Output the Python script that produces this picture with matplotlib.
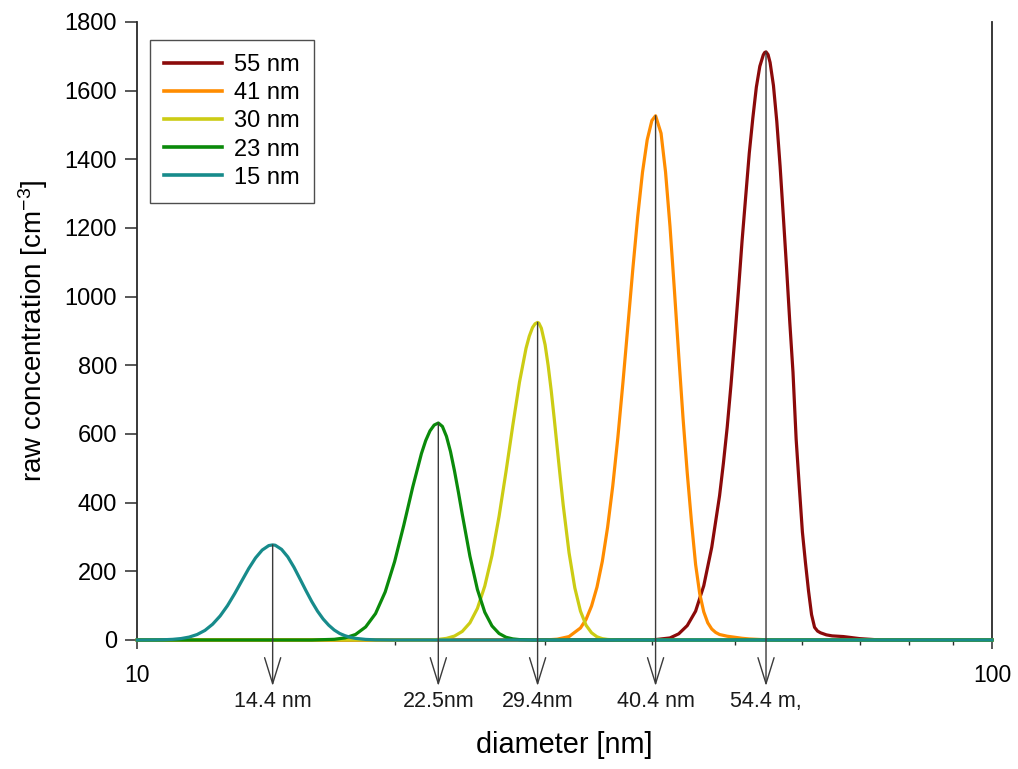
import numpy as np
import matplotlib
matplotlib.use("Agg")
import matplotlib.pyplot as plt
from matplotlib.patches import ArrowStyle

plt.rcParams['font.family'] = ['Liberation Sans', 'DejaVu Sans']
plt.rcParams['mathtext.fontset'] = 'custom'
plt.rcParams['mathtext.rm'] = 'Liberation Sans'
plt.rcParams['mathtext.it'] = 'Liberation Sans:italic'
plt.rcParams['mathtext.bf'] = 'Liberation Sans:bold'

# ---- data ----
series_labels = ["55 nm", "41 nm", "30 nm", "23 nm", "15 nm"]
series_colors = ["#8B0A0A", "#FF8C00", "#CCCC14", "#0A8A0A", "#178B8B"]

d55 = [10, 40, 42, 43, 44, 45, 46, 47, 48, 48.5, 49, 49.5, 50, 50.5, 51, 51.5, 52, 52.5, 53, 53.5,
       54, 54.2, 54.4, 54.7, 55, 55.5, 56, 56.5, 57, 57.5, 58, 58.5, 59, 59.5, 60, 60.5, 61, 61.5,
       62, 62.5, 63, 64, 65, 66, 67, 68, 70, 72, 74, 100]
c55 = [0, 0, 6, 18, 42, 84, 158, 270, 420, 515, 620, 743, 877, 1016, 1162, 1291, 1418, 1520, 1610, 1671,
       1704, 1711, 1713, 1705, 1682, 1615, 1511, 1381, 1233, 1083, 925, 780, 585, 447, 315, 225, 143, 74,
       37, 26, 21, 15, 12, 11, 10, 8, 4, 2, 0, 0]

d41 = [10, 30, 31, 32, 33, 33.5, 34, 34.5, 35, 35.5, 36, 36.5, 37, 37.5, 38, 38.5, 39, 39.5, 40, 40.4,
       41, 41.5, 42, 42.5, 43, 43.5, 44, 44.5, 45, 45.5, 46, 46.5, 47, 47.5, 48, 49, 50, 51, 52, 54, 56,
       100]
c41 = [0, 0, 2.4, 10, 35, 60, 99, 154, 229, 328, 449, 591, 750, 916, 1081, 1233, 1362, 1457, 1513, 1527,
       1476, 1363, 1205, 1020, 829, 647, 486, 345, 220, 135, 82, 50, 32, 22, 16, 11, 8, 5, 3, 1, 0,
       0]

d30 = [10, 22, 22.5, 23, 23.5, 24, 24.5, 25, 25.5, 26, 26.5, 27, 27.5, 28, 28.5, 28.75, 29, 29.2, 29.4,
       29.5, 29.7, 30, 30.25, 30.5, 30.75, 31, 31.25, 31.5, 32, 32.5, 33, 33.5, 34, 34.5, 35, 35.5,
       36.5, 100]
c30 = [0, 0, 1.7, 4.7, 11.4, 25, 50, 92, 157, 246, 360, 490, 625, 751, 850, 885, 910, 921, 925,
       923, 908, 860, 799, 726, 644, 558, 474, 393, 254, 152, 84, 43, 21, 9.3, 3.9, 1.6,
       0, 0]

d23 = [10, 16, 17, 17.5, 18, 18.5, 19, 19.5, 20, 20.5, 21, 21.5, 21.75, 22, 22.25, 22.5, 22.75, 23,
       23.25, 23.5, 23.75, 24, 24.5, 25, 25.5, 26, 26.5, 27, 27.5, 28, 29, 100]
c23 = [0, 0, 2, 6.1, 16, 38, 77, 140, 228, 334, 445, 543, 581, 609, 626, 632, 622, 593,
       549, 493, 431, 366, 244, 147, 81, 41, 19, 8, 3.2, 1.2, 0, 0]

d15 = [10, 10.5, 10.75, 11, 11.25, 11.5, 11.75, 12, 12.25, 12.5, 12.75, 13, 13.25, 13.5, 13.75,
       14, 14.25, 14.4, 14.5, 14.75, 15, 15.25, 15.5, 15.75, 16, 16.25, 16.5, 16.75, 17, 17.25,
       17.5, 17.75, 18, 18.5, 19, 20, 100]
c15 = [0, 0.3, 0.8, 1.9, 4.2, 8.5, 16, 28, 46, 70, 100, 135, 172, 208, 239,
       262, 275, 277, 276, 264, 242, 212, 178, 144, 112, 84, 61, 43, 29, 19,
       12.5, 7.8, 4.8, 1.7, 0.5, 0, 0]

peak_diam = [14.4, 22.5, 29.4, 40.4, 54.4]
peak_text = ["14.4 nm", "22.5nm", "29.4nm", "40.4 nm", "54.4 m,"]

x_ticks = [10, 100]
y_ticks = [0, 200, 400, 600, 800, 1000, 1200, 1400, 1600, 1800]

# ---- figure ----
W, H = 1018, 769
fig = plt.figure(figsize=(W / 100, H / 100), dpi=100)
L, R, T, B = 137.3, 992.0, 22.0, 640.0
ax = fig.add_axes([L / W, 1 - B / H, (R - L) / W, (B - T) / H])

xs = [d55, d41, d30, d23, d15]
ys = [c55, c41, c30, c23, c15]
for i, (x, y, lab, col) in enumerate(zip(xs, ys, series_labels, series_colors)):
    ax.plot(x, y, color=col, lw=2.3, label=lab, zorder=3 + i, clip_on=False,
            solid_joinstyle='round')

ax.set_xscale('log')
ax.set_xlim(10, 100)
ax.set_ylim(0, 1800)
ax.set_xticks(x_ticks)
ax.set_xticklabels([str(v) for v in x_ticks])
ax.set_yticks(y_ticks)
ax.set_yticklabels([str(v) for v in y_ticks])
ax.xaxis.set_minor_locator(matplotlib.ticker.LogLocator(base=10, subs=np.arange(2, 10)))
ax.xaxis.set_minor_formatter(matplotlib.ticker.NullFormatter())

ax.spines['top'].set_visible(False)
for s in ['left', 'bottom', 'right']:
    ax.spines[s].set_color('#2a2a2a')
    ax.spines[s].set_linewidth(1.3)
ax.tick_params(axis='y', which='major', direction='out', length=8.5, width=1.1,
               color='#2a2a2a', labelsize=17, pad=6, right=False)
ax.tick_params(axis='x', which='major', direction='out', length=6.5, width=1.1,
               color='#2a2a2a', labelsize=16.5, pad=11)
ax.tick_params(axis='x', which='minor', direction='out', length=3.5, width=1.0,
               color='#2a2a2a')

ax.set_xlabel('diameter [nm]', fontsize=20.8)
ax.xaxis.set_label_coords(0.5, (B - 731) / (B - T))
ax.set_ylabel('raw concentration [cm$^{-3}$]', fontsize=20)
ax.yaxis.set_label_coords((50 - L) / (R - L), 0.5)

# ---- arrows from each peak to its label ----
style = ArrowStyle("->", head_length=1.87, head_width=0.58)
tip_y = (B - 686) / (B - T)
txt_y = (B - 707) / (B - T)
for dpk, txt, yv in zip(peak_diam, peak_text, [c15, c23, c30, c41, c55]):
    top = max(yv)
    ax.annotate('', xy=(dpk, tip_y), xycoords=('data', 'axes fraction'),
                xytext=(dpk, top), textcoords='data',
                arrowprops=dict(arrowstyle=style, color='#3a3a3a', lw=1.0,
                                shrinkA=0, shrinkB=0, mutation_scale=10),
                annotation_clip=False, zorder=20)
    ax.text(dpk, txt_y, txt, transform=ax.get_xaxis_transform(), ha='center',
            va='baseline', fontsize=15.5, color='#1a1a1a', clip_on=False)

leg = ax.legend(loc='upper left', bbox_to_anchor=((150 - L) / (R - L), (B - 40) / (B - T)),
                borderaxespad=0, fontsize=17, frameon=True, fancybox=False,
                edgecolor='#222222', handlelength=2.45, handletextpad=0.5,
                labelspacing=0.26, borderpad=0.6)
leg.get_frame().set_linewidth(1.0)
for lh in leg.get_lines():
    lh.set_linewidth(2.6)

fig.savefig('out.png', dpi=100, facecolor='white')
